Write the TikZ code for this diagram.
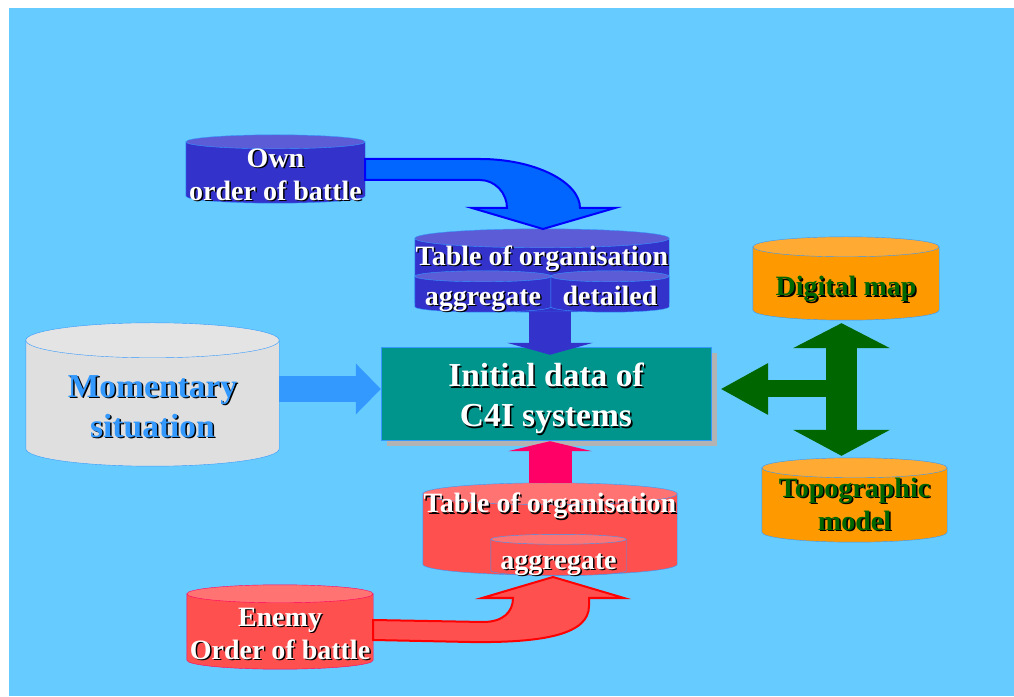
\documentclass[tikz,border=0pt]{standalone}
\usepackage{fontspec}
\setmainfont{Liberation Serif}
\usetikzlibrary{calc,arrows.meta,shadows}
\pgfdeclarelayer{background}
\pgfsetlayers{background,main}

\definecolor{skyback}{HTML}{66CCFF}
\definecolor{ownblue}{HTML}{3333CC}
\definecolor{owntop}{HTML}{5C5CD6}
\definecolor{arrowblue}{HTML}{0066FF}
\definecolor{lineblue}{HTML}{3399FF}
\definecolor{momgray}{HTML}{DFDFDF}
\definecolor{momtop}{HTML}{E4E4E4}
\definecolor{c4teal}{HTML}{00958C}
\definecolor{shadegray}{HTML}{B3B3B3}
\definecolor{maporange}{HTML}{FF9900}
\definecolor{maptop}{HTML}{FFAA33}
\definecolor{mapgreen}{HTML}{006600}
\definecolor{enemyred}{HTML}{FF5050}
\definecolor{enemytop}{HTML}{FF7373}
\definecolor{enemypink}{HTML}{FF0066}

\newcommand\shtxt[2][black]{\rlap{\kern1.5pt\raisebox{-1.5pt}{\textcolor{#1}{#2}}}#2}
\newcommand\lift[1]{\rule{0pt}{#1}}

\newcommand\drum[5]{%
\begin{pgfonlayer}{background}
\path[draw=#5, fill=#3] let \p1=(#1.north west), \p2=(#1.south east), \n1={(\x2-\x1)/2} in
  (\x1,\y1) -- (\x1,\y2+#2) arc[start angle=180, end angle=360, x radius=\n1, y radius=#2] -- (\x2,\y1) -- cycle;
\path[draw=#5, fill=#4] let \p1=(#1.north west), \p2=(#1.south east), \n1={(\x2-\x1)/2} in
  (#1.north) ellipse[x radius=\n1, y radius=#2];
\end{pgfonlayer}}

\tikzset{
  drumbox/.style={rectangle, inner sep=0pt, align=center, text=white,
    font=\fontsize{28}{33}\selectfont\bfseries},
  oneline/.style={text height=#1, text depth=6pt},
  toplabel/.style={inner sep=0pt, anchor=north, text=white,
    font=\fontsize{28}{33}\selectfont\bfseries},
  bigfont/.style={font=\fontsize{33.5}{40}\selectfont\bfseries},
  initbox/.style={rectangle, fill=c4teal, draw=lineblue, align=center, text=white,
    minimum width=330pt, minimum height=93pt, bigfont,
    drop shadow={shadow xshift=6pt, shadow yshift=-6pt, fill=shadegray, opacity=1}},
  fattip/.style n args={2}{-{Triangle[width=#1, length=#2, line width=0pt]}}
}

\begin{document}
\begin{tikzpicture}[x=1pt, y=1pt]
\useasboundingbox (0,0) rectangle (1014,696);
\begin{pgfonlayer}{background}
\fill[skyback] (9,0) rectangle (1014,688);
\end{pgfonlayer}

\node[drumbox, minimum width=179pt, minimum height=61pt] (own) at (275.5,523.5) {\lift{24pt}\shtxt{Own}\\\shtxt{order of battle}};
\drum{own}{7pt}{ownblue}{owntop}{lineblue}

\node[drumbox, minimum width=254pt, minimum height=73.5pt,
  label={[toplabel, yshift=-7pt]90:\shtxt{Table of organisation}}] (tblu) at (542,420.75) {};
\drum{tblu}{9.5pt}{ownblue}{owntop}{lineblue}
\node[drumbox, oneline=28pt, minimum width=136pt, minimum height=35.5pt] (agg1) at (483,401.75) {\shtxt{aggregate}};
\drum{agg1}{5.5pt}{ownblue}{owntop}{lineblue}
\node[drumbox, oneline=28pt, minimum width=118pt, minimum height=35.5pt] (det) at (610,401.75) {\shtxt{detailed}};
\drum{det}{5.5pt}{ownblue}{owntop}{lineblue}

\node[drumbox, bigfont, text=lineblue, minimum width=253pt, minimum height=125.5pt] (mom) at (152.5,292.75) {\lift{30pt}\shtxt{Momentary}\\\shtxt{situation}};
\drum{mom}{17.5pt}{momgray}{momtop}{lineblue}

\node[initbox] (init) at (546,302.5) {\lift{35pt}\shtxt{Initial data of}\\\shtxt{C4I systems}};

\node[drumbox, oneline=31pt, text=mapgreen, minimum width=186pt, minimum height=73pt] (dmap) at (846,412.5) {\shtxt{Digital map}};
\drum{dmap}{10pt}{maporange}{maptop}{lineblue}
\node[drumbox, text=mapgreen, minimum width=185pt, minimum height=74pt] (topo) at (854.5,191) {\shtxt{Topographic}\\\shtxt{model}};
\drum{topo}{10pt}{maporange}{maptop}{lineblue}

\node[drumbox, minimum width=254pt, minimum height=81pt,
  label={[toplabel, yshift=1pt]90:\shtxt{Table of organisation}}] (tred) at (550,161.5) {};
\drum{tred}{11pt}{enemyred}{enemytop}{lineblue}
\node[drumbox, oneline=30pt, minimum width=135pt, minimum height=35pt] (agg2) at (558.5,138.5) {\shtxt{aggregate}};
\drum{agg2}{5pt}{enemyred}{enemytop}{lineblue}

\node[drumbox, minimum width=186pt, minimum height=75pt] (enemy) at (280,64.5) {\lift{24.5pt}\shtxt{Enemy}\\\shtxt{Order of battle}};
\drum{enemy}{9pt}{enemyred}{enemytop}{enemypink}

\coordinate (gj) at (841.5,307);

\draw[blue, line width=2pt, fill=arrowblue, line join=miter]
  (own.east |- 0,537) -- (480,537) .. controls (535,537) and (580,514) .. (580,488)
  -- (615,488) -- (543,467) -- (472,488) -- (507,488)
  .. controls (507,503) and (495,516) .. (480,516) -- (own.east |- 0,516) -- cycle;
\draw[red, line width=2pt, fill=enemyred, line join=miter]
  (enemy.east |- 0,76) -- (483,74) .. controls (503,74) and (513,84) .. (513,98)
  -- (482,98) -- (553,119) -- (624,98) -- (589,98) -- (589,90)
  .. controls (589,62) and (545,53) .. (470,54) -- (enemy.east |- 0,56) -- cycle;

\draw[line width=42pt, ownblue, fattip={86pt}{12pt}, shorten >=-8pt] (tred.north |- tblu.south) -- (tred.north |- init.north);
\draw[line width=26pt, lineblue, fattip={51pt}{25pt}] (mom.east |- gj) -- (init.west |- gj);
\draw[line width=43pt, enemypink, fattip={84pt}{10pt}, shorten >=1pt] ($(tred.north)+(0,11)$) -- (tred.north |- init.south);
\draw[line width=31pt, mapgreen, {Triangle[width=97pt, length=25pt, line width=0pt]}-{Triangle[width=97pt, length=26pt, line width=0pt]},
  shorten <=3pt, shorten >=12pt] (gj |- dmap.south) -- (gj |- topo.north);
\draw[line width=17pt, mapgreen, fattip={52pt}{47pt}, shorten >=10pt] (gj) -- (init.east |- gj);
\end{tikzpicture}
\end{document}
